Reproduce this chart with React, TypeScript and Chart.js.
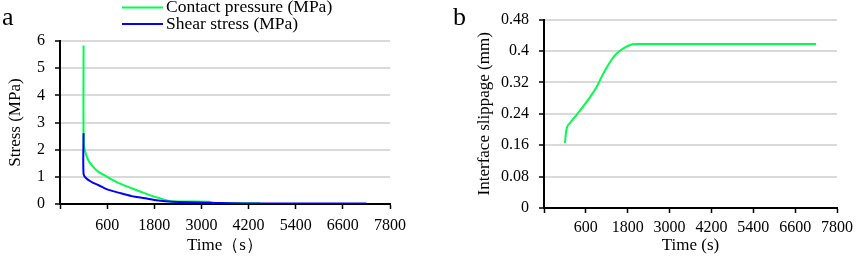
import React, { useEffect, useRef } from "react";
import { Chart, registerables } from "chart.js";

Chart.register(...registerables);

const FONT = "'Liberation Serif', 'Times New Roman', serif";
const GREEN = "#00ff4c";
const BLUE = "#0000ff";
const GRID = "#d9d9d9";

// Shared time axis (s)
const timeMin = -600;
const timeMax = 7800;
const timeTicks = [600, 1800, 3000, 4200, 5400, 6600, 7800];

// Panel a: stress (MPa)
const stressTicks = [0, 1, 2, 3, 4, 5, 6];
const pressureTime = [0, 0, 30, 117, 245, 373, 600, 885, 1225, 1567, 1800, 2078, 2250, 2600, 3200, 3300, 4500];
const pressureValues = [5.83, 2.35, 1.99, 1.62, 1.37, 1.19, 1.0, 0.78, 0.58, 0.39, 0.27, 0.15, 0.1, 0.09, 0.08, 0.04, 0.03];
const shearTime = [0, 0, 73, 245, 373, 600, 885, 1225, 1567, 1800, 2078, 2420, 3160, 4200, 7200];
const shearValues = [2.6, 1.1, 0.94, 0.78, 0.7, 0.54, 0.42, 0.29, 0.21, 0.15, 0.1, 0.07, 0.05, 0.02, 0.02];

// Panel b: interface slippage (mm)
const slipTicks = [0, 0.08, 0.16, 0.24, 0.32, 0.4, 0.48];
const slipTime = [0, 40, 150, 340, 525, 715, 900, 1090, 1280, 1465, 1700, 1935, 2120, 7200];
const slipValues = [0.166, 0.198, 0.217, 0.238, 0.259, 0.282, 0.307, 0.341, 0.37, 0.392, 0.408, 0.417, 0.418, 0.418];

const legendLabels = ["Contact pressure (MPa)", "Shear stress (MPa)"];

const tickFont = { family: FONT, size: 16 };
const titleFont = { family: FONT, size: 17 };

function pts(xs: number[], ys: number[]) {
  return xs.map((x, i) => ({ x, y: ys[i] }));
}

function xScale(title: string, height: number, pad: number) {
  return {
    type: "linear",
    min: timeMin,
    max: timeMax,
    afterBuildTicks: (s: any) => {
      s.ticks = [timeMin, ...timeTicks].map((v) => ({ value: v }));
    },
    ticks: {
      callback: (v: any) => (v < 0 ? "" : String(v)),
      font: tickFont,
      color: "#000",
      padding: pad,
      maxRotation: 0,
      autoSkip: false,
    },
    grid: { drawOnChartArea: false, drawTicks: true, tickLength: 5, tickColor: "#000", tickWidth: 1.5 },
    border: { color: "#000", width: 2 },
    title: { display: true, text: title, font: titleFont, color: "#000", padding: { top: 0, bottom: 4 } },
    afterFit: (s: any) => {
      s.height = height;
    },
  };
}

function yScale(title: string, ticks: number[], width: number) {
  return {
    type: "linear",
    min: ticks[0],
    max: ticks[ticks.length - 1],
    afterBuildTicks: (s: any) => {
      s.ticks = ticks.map((v) => ({ value: v }));
    },
    ticks: { callback: (v: any) => String(v), font: tickFont, color: "#000", padding: 10 },
    grid: { color: GRID, lineWidth: 2, tickLength: 5, tickColor: "#000", tickWidth: 1.5 },
    border: { color: "#000", width: 2 },
    title: { display: true, text: title, font: titleFont, color: "#000", padding: { top: 4, bottom: 0 } },
    afterFit: (s: any) => {
      s.width = width;
    },
  };
}

function overlay(draw: (ctx: CanvasRenderingContext2D) => void) {
  return {
    id: "overlay",
    afterDraw(chart: any) {
      const ctx = chart.ctx as CanvasRenderingContext2D;
      ctx.save();
      draw(ctx);
      ctx.restore();
    },
  };
}

function configA(): any {
  return {
    type: "line",
    data: {
      datasets: [
        {
          label: legendLabels[0],
          data: pts(pressureTime, pressureValues),
          borderColor: GREEN,
          borderWidth: 2,
          pointRadius: 0,
          tension: 0.3,
          order: 2,
        },
        {
          label: legendLabels[1],
          data: pts(shearTime, shearValues),
          borderColor: BLUE,
          borderWidth: 2,
          pointRadius: 0,
          tension: 0.3,
          order: 1,
        },
      ],
    },
    options: {
      responsive: false,
      animation: false,
      devicePixelRatio: 1,
      layout: { padding: { left: 1, top: 41, right: 40, bottom: 0 } },
      plugins: { legend: { display: false }, tooltip: { enabled: false } },
      scales: {
        x: xScale("Time（s）", 56, 7),
        y: yScale("Stress (MPa)", stressTicks, 59),
      },
    },
    plugins: [
      overlay((ctx) => {
        ctx.fillStyle = "#000";
        ctx.textBaseline = "alphabetic";
        ctx.textAlign = "left";
        ctx.font = `26px ${FONT}`;
        ctx.fillText("a", 2, 25);
        const colors = [GREEN, BLUE];
        const ys = [7.5, 24];
        ctx.font = `17.5px ${FONT}`;
        legendLabels.forEach((lab, i) => {
          ctx.strokeStyle = colors[i];
          ctx.lineWidth = 2;
          ctx.beginPath();
          ctx.moveTo(122, ys[i]);
          ctx.lineTo(163, ys[i]);
          ctx.stroke();
          ctx.fillStyle = "#000";
          ctx.fillText(lab, 166, ys[i] + 4.5);
        });
      }),
    ],
  };
}

function configB(): any {
  return {
    type: "line",
    data: {
      datasets: [
        {
          label: "Interface slippage (mm)",
          data: pts(slipTime, slipValues),
          borderColor: GREEN,
          borderWidth: 2,
          pointRadius: 0,
          cubicInterpolationMode: "monotone",
        },
      ],
    },
    options: {
      responsive: false,
      animation: false,
      devicePixelRatio: 1,
      layout: { padding: { left: 40, top: 18, right: 16, bottom: 0 } },
      plugins: { legend: { display: false }, tooltip: { enabled: false } },
      scales: {
        x: xScale("Time (s)", 52, 5),
        y: yScale("Interface slippage (mm)", slipTicks, 74),
      },
    },
    plugins: [
      overlay((ctx) => {
        ctx.fillStyle = "#000";
        ctx.textBaseline = "alphabetic";
        ctx.textAlign = "left";
        ctx.font = `26px ${FONT}`;
        ctx.fillText("b", 23, 25);
      }),
    ],
  };
}

function Panel({ left, width, make }: { left: number; width: number; make: () => any }) {
  const ref = useRef<HTMLCanvasElement>(null);
  useEffect(() => {
    const chart = new Chart(ref.current as HTMLCanvasElement, make());
    return () => chart.destroy();
  }, []);
  return (
    <canvas
      ref={ref}
      width={width}
      height={260}
      style={{ position: "absolute", left, top: 0, width, height: 260 }}
    />
  );
}

export default function App() {
  return (
    <div style={{ position: "absolute", left: 0, top: 0, width: 858, height: 260, background: "#fff" }}>
      <Panel left={0} width={430} make={configA} />
      <Panel left={430} width={428} make={configB} />
    </div>
  );
}
